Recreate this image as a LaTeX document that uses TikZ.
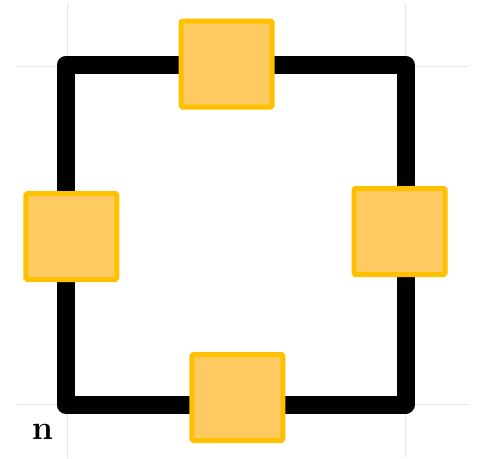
\documentclass[tikz,border=0pt]{standalone}
\begin{document}
\begin{tikzpicture}[x=1pt,y=-1pt,
  gridline/.style={draw=black!10,line width=1pt},
  frame/.style={draw=black,line width=18pt,line join=round},
  portbox/.style={rectangle,draw=orange!60!yellow!95!red,fill=yellow!40!orange!65,line width=5pt,
    minimum width=91pt,minimum height=86pt,inner sep=0pt,outer sep=0pt,rounded corners=1.5pt}]
\definecolor{pb}{HTML}{FFC000}
\definecolor{pf}{HTML}{FFCA62}
\tikzset{portbox/.append style={draw=pb,fill=pf}}
\useasboundingbox (0,0) rectangle (479,458);
% grid
\coordinate (g1a) at (67,4);   \coordinate (g1b) at (67,458);
\coordinate (g2a) at (405,4);  \coordinate (g2b) at (405,457);
\coordinate (g3a) at (17,66);  \coordinate (g3b) at (468,66);
\coordinate (g4a) at (17,404); \coordinate (g4b) at (468,404);
\draw[gridline] (g1a) -- (g1b);
\draw[gridline] (g2a) -- (g2b);
\draw[gridline] (g3a) -- (g3b);
\draw[gridline] (g4a) -- (g4b);
% frame
\coordinate (tl) at (65.5,65);
\coordinate (br) at (405.5,404.5);
\draw[frame] (tl) rectangle (br);
% boxes
\node[portbox] (top) at (226.5,64) {};
\node[portbox] (left) at (71.3,236.5) {};
\node[portbox] (right) at (399.5,231.5) {};
\node[portbox] (bottom) at (237.3,397.5) {};
% label
\node[font=\fontsize{34}{34}\selectfont\bfseries,inner sep=0pt,anchor=base] (n) at (42.5,439) {n};
\end{tikzpicture}
\end{document}
